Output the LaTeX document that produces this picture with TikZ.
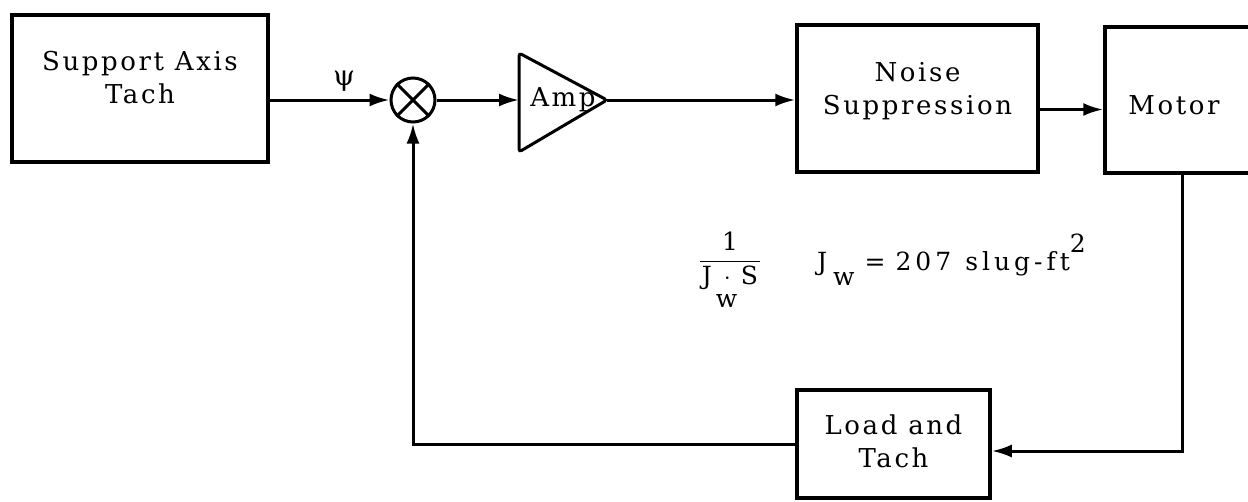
\documentclass[tikz,border=0pt]{standalone}
\usepackage{fix-cm}
\usepackage{amsmath}
\usepackage{fontspec}
\setmainfont{DejaVu Serif}[LetterSpace=10]
\usetikzlibrary{arrows.meta}
\newcommand{\shiftedtext}[2]{\raisebox{#1}[\height][\depth]{\begin{tabular}{@{}c@{}}#2\end{tabular}}}
\begin{document}
\begin{tikzpicture}[x=1pt,y=-1pt,
  blk/.style={draw, line width=3.5pt, inner sep=0pt,
    font=\fontsize{26}{33}\selectfont},
  arr/.style={line width=3pt, -{Latex[length=20pt,width=13pt]}},
  lbl/.style={font=\fontsize{25}{30}\selectfont, inner sep=0pt}]
\useasboundingbox (0,0) rectangle (1248,501);
% blocks
\node[blk, minimum width=256pt, minimum height=147pt] (sat) at (140,88.5) {\shiftedtext{8pt}{Support Axis\\Tach}};
\node[blk, minimum width=241pt, minimum height=147pt] (ns) at (917.5,98.5) {\shiftedtext{7pt}{Noise\\Suppression}};
\node[blk, minimum width=154pt, minimum height=146pt] (motor) at (1182,100) {\hspace*{-16pt}\shiftedtext{-8pt}{Motor}};
\node[blk, minimum width=193pt, minimum height=108pt] (lt) at (893.5,444) {\shiftedtext{0pt}{Load and\\Tach}};
% summing junction
\node[draw, circle, line width=3pt, minimum size=44pt, inner sep=0pt] (sum) at (413,100) {};
\draw[line width=3pt] (sum.north west) -- (sum.south east);
\draw[line width=3pt] (sum.north east) -- (sum.south west);
% amplifier
\coordinate (ampin) at (519,100);
\coordinate (ampout) at (607,100);
\draw[line width=3pt, rounded corners=3pt] (519,53) -- (ampout) -- (519,152) -- cycle;
\node[font=\fontsize{26}{33}\selectfont, inner sep=0pt] (amp) at (563,100) {Amp};
% connectors
\draw[arr] (sat.east |- sum.west) -- (sum.west);
\node[font=\fontsize{28}{32}\selectfont, inner sep=0pt] (psi) at (344,81) {ψ};
\draw[arr] (sum.east) -- (ampin);
\draw[arr] (ampout) -- (ampout -| ns.west);
\draw[arr] ([yshift=-11pt]ns.east) -- ([yshift=-11pt]ns.east -| motor.west);
\draw[arr] (motor.south) |- ([yshift=-7pt]lt.east);
\draw[arr] (lt.west) -| (sum.south);
% labels
\node[lbl, anchor=north] (frac) at (730,232) {$\dfrac{\text{1}}{\kern2pt\text{J}\kern4pt\rlap{\raisebox{-23pt}{w}}\kern8pt{\cdot}\kern10pt\text{S}\kern2pt}$};
\node[lbl, anchor=base west] (jw) at (817,270) {\addfontfeature{LetterSpace=16}J\hspace{6pt}\raisebox{-15pt}{w}\hspace{10pt}=\hspace{10pt}207\hspace{14pt}slug-ft\raisebox{18pt}{2}};
\end{tikzpicture}
\end{document}
